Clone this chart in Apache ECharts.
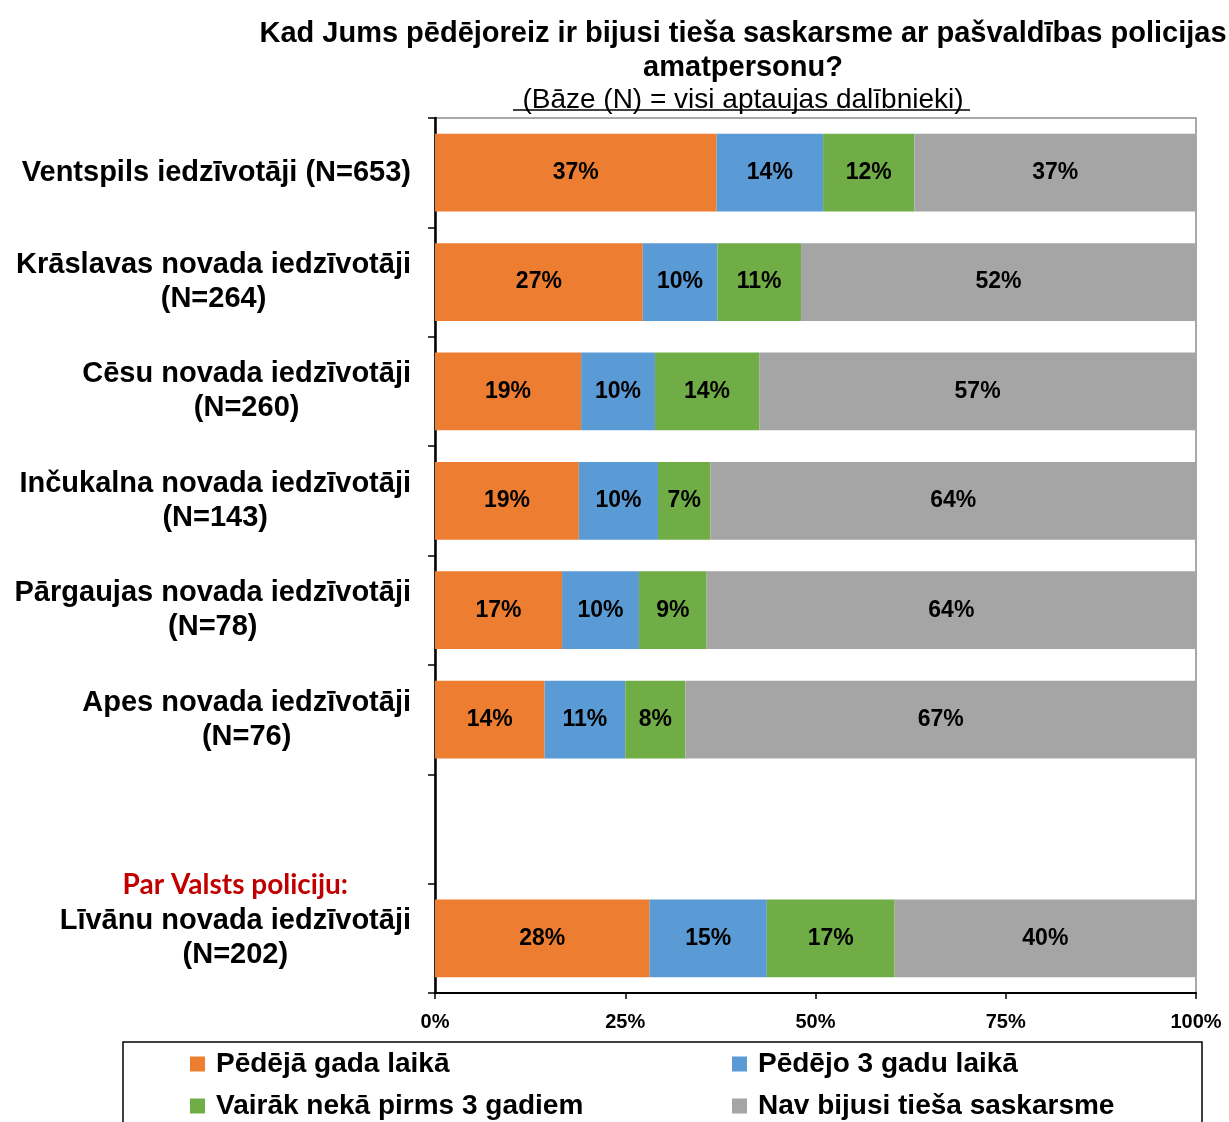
<!DOCTYPE html>
<html>
<head>
<meta charset="utf-8">
<script src="https://cdn.jsdelivr.net/npm/echarts@6/dist/echarts.min.js"></script>
<style>
  html, body { margin: 0; padding: 0; background: #fff; }
  #chart { width: 1229px; height: 1122px; }
</style>
</head>
<body>
<div id="chart"></div>
<script>
const categories = [
  'Ventspils iedzīvotāji (N=653)',
  'Krāslavas novada iedzīvotāji\n(N=264)',
  'Cēsu novada iedzīvotāji\n(N=260)',
  'Inčukalna novada iedzīvotāji\n(N=143)',
  'Pārgaujas novada iedzīvotāji\n(N=78)',
  'Apes novada iedzīvotāji\n(N=76)',
  '',
  'Līvānu novada iedzīvotāji\n(N=202)'
]
const seriesNames = [
  'Pēdējā gada laikā',
  'Pēdējo 3 gadu laikā',
  'Vairāk nekā pirms 3 gadiem',
  'Nav bijusi tieša saskarsme'
]
const lastYear = [37, 27.3, 19.2, 18.9, 16.7, 14.4, '-', 28.2]
const last3Years = [14, 9.8, 9.7, 10.4, 10.1, 10.6, '-', 15.4]
const moreThan3 = [12, 11, 13.7, 6.9, 8.9, 7.9, '-', 16.8]
const never = [37, 51.9, 57.4, 63.8, 64.3, 67.1, '-', 39.6]
const xTicks = [0, 25, 50, 75, 100]
const separateLabel = 'Par Valsts policiju:'

const colors = ['#ED7D31', '#5B9BD5', '#70AD47', '#A5A5A5']
const FONT = '"Liberation Sans", Arial, sans-serif'

const chart = echarts.init(document.getElementById('chart'))

function makeSeries(name, data, i) {
  return {
    name: name,
    type: 'bar',
    stack: 'total',
    barCategoryGap: '29%',
    itemStyle: { color: colors[i] },
    label: {
      show: true,
      position: 'inside',
      color: '#000',
      fontFamily: FONT,
      fontWeight: 'bold',
      fontSize: 23,
      formatter: (p) => Math.round(p.value) + '%'
    },
    data: data
  }
}

const legendText = {
  fontFamily: FONT,
  fontWeight: 'bold',
  fontSize: 28,
  lineHeight: 30,
  color: '#000',
  padding: [0, 0, 0, 6]
}

const option = {
  animation: false,
  backgroundColor: '#fff',
  title: {
    text: 'Kad Jums pēdējoreiz ir bijusi tieša saskarsme ar pašvaldības policijas\namatpersonu?',
    subtext: '(Bāze (N) = visi aptaujas dalībnieki)',
    left: 738,
    top: 12,
    textAlign: 'center',
    itemGap: 0,
    textStyle: {
      fontFamily: FONT,
      fontWeight: 'bold',
      fontSize: 29,
      lineHeight: 34,
      color: '#000'
    },
    subtextStyle: {
      fontFamily: FONT,
      fontSize: 28,
      lineHeight: 30,
      color: '#000'
    }
  },
  grid: {
    left: 435,
    right: 33,
    top: 118,
    bottom: 129,
    show: true,
    borderColor: '#8c8c8c',
    borderWidth: 1.5
  },
  xAxis: {
    type: 'value',
    min: 0,
    max: 100,
    interval: 25,
    axisLine: { show: true, lineStyle: { color: '#000', width: 2 } },
    axisTick: { show: true, length: 6, lineStyle: { color: '#000', width: 1.5 } },
    splitLine: { show: false },
    axisLabel: {
      margin: 19,
      color: '#000',
      fontFamily: FONT,
      fontWeight: 'bold',
      fontSize: 20,
      formatter: (v) => xTicks.includes(v) ? v + '%' : ''
    }
  },
  yAxis: {
    type: 'category',
    inverse: true,
    data: categories,
    axisLine: { show: true, lineStyle: { color: '#000', width: 2.5 } },
    axisTick: { show: true, length: 7, lineStyle: { color: '#000', width: 1.5 } },
    axisLabel: {
      margin: 24,
      align: 'right',
      formatter: (v) => {
        if (!v) return ''
        const lines = v.split('\n').map((l) => '{a|' + l + '}')
        if (v.startsWith('Līvānu')) {
          return '{r|' + separateLabel + '}\n' + lines.join('\n') + '\n{r| }'
        }
        return lines.join('\n')
      },
      rich: {
        a: {
          align: 'center',
          color: '#000',
          fontFamily: FONT,
          fontWeight: 'bold',
          fontSize: 29,
          lineHeight: 34
        },
        r: {
          align: 'center',
          color: '#C00000',
          fontFamily: 'Lato, "Open Sans", sans-serif',
          fontWeight: 'bold',
          fontSize: 28,
          lineHeight: 38
        }
      }
    }
  },
  legend: [
    {
      data: [seriesNames[0], seriesNames[2]],
      orient: 'vertical',
      left: 190,
      top: 1049,
      height: 100,
      padding: 0,
      itemWidth: 15,
      itemHeight: 15,
      itemGap: 12,
      icon: 'rect',
      textStyle: legendText
    },
    {
      data: [seriesNames[1], seriesNames[3]],
      orient: 'vertical',
      left: 732,
      top: 1049,
      height: 100,
      padding: 0,
      itemWidth: 15,
      itemHeight: 15,
      itemGap: 12,
      icon: 'rect',
      textStyle: legendText
    }
  ],
  graphic: [
    {
      type: 'rect',
      shape: { x: 123, y: 1042, width: 1079, height: 120 },
      style: { fill: 'none', stroke: '#000', lineWidth: 1.5 },
      silent: true
    },
    {
      type: 'line',
      shape: { x1: 513, y1: 110, x2: 970, y2: 110 },
      style: { stroke: '#000', lineWidth: 1.5 },
      silent: true
    }
  ],
  series: [
    makeSeries(seriesNames[0], lastYear, 0),
    makeSeries(seriesNames[1], last3Years, 1),
    makeSeries(seriesNames[2], moreThan3, 2),
    makeSeries(seriesNames[3], never, 3)
  ]
}

chart.setOption(option)
</script>
</body>
</html>
